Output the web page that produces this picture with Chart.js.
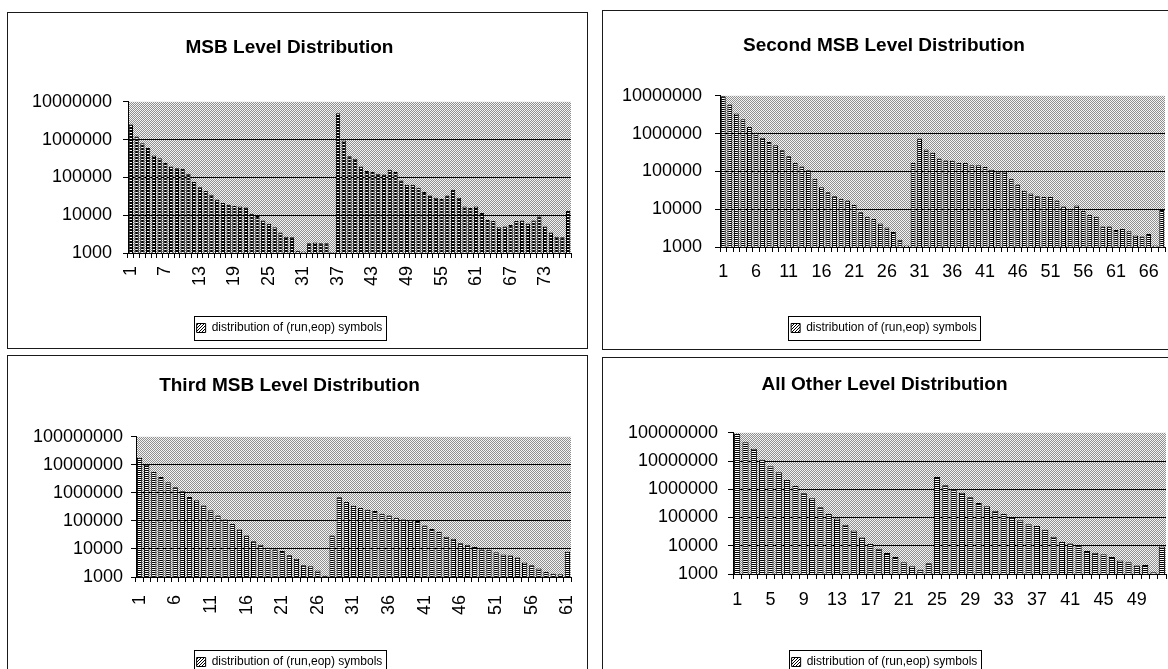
<!DOCTYPE html>
<html><head><meta charset="utf-8">
<script src="https://cdn.jsdelivr.net/npm/chart.js@4.4.1/dist/chart.umd.min.js"></script>
<style>
html,body{margin:0;padding:0;background:#fff;width:1168px;height:669px;overflow:hidden;position:relative;}
.frame{position:absolute;border:1px solid #1a1a1a;box-sizing:border-box;}
canvas{position:absolute;}
</style></head><body>
<div class="frame" style="left:7px;top:12px;width:581px;height:337px"></div>
<div class="frame" style="left:602px;top:10px;width:600px;height:340px"></div>
<div class="frame" style="left:7px;top:355px;width:581px;height:400px"></div>
<div class="frame" style="left:602px;top:357px;width:600px;height:400px"></div>
<canvas id="c1" width="578" height="334" style="left:8px;top:13px"></canvas>
<canvas id="c2" width="580" height="337" style="left:603px;top:11px"></canvas>
<canvas id="c3" width="578" height="330" style="left:8px;top:356px"></canvas>
<canvas id="c4" width="580" height="330" style="left:603px;top:358px"></canvas>
<script>
// ---- data ----
const seriesName = 'distribution of (run,eop) symbols';

const msbValues = [2500000,1200000,800000,600000,380000,320000,240000,195000,175000,170000,
  125000,76000,55000,44000,35000,26000,21000,19000,17500,17000,
  16000,11000,9500,7200,5900,4800,3500,2700,2600,1150,
  1100,1800,1900,1800,1800,1050,5000000,950000,360000,310000,
  195000,147000,140000,125000,120000,160000,140000,83000,64000,64000,
  53000,41000,33000,29000,27000,33000,47000,29000,17000,15500,
  17000,11500,7500,7000,4800,5000,5500,7000,7200,6000,
  7200,9200,5000,3500,2700,2600,13000];

const secondValues = [9800000,5900000,3400000,2400000,1500000,1050000,780000,600000,490000,360000,
  250000,166000,135000,107000,64000,38000,28000,22000,19000,17000,
  13000,8300,6300,5500,4200,3300,2500,1550,1100,166000,
  740000,380000,310000,220000,195000,190000,166000,166000,145000,145000,
  130000,110000,100000,100000,64000,45000,31000,26000,22000,21000,
  21000,17000,11700,10000,12500,8900,7000,6300,3500,3500,
  2800,3000,2600,2000,1900,2200,1100,9500];

const thirdValues = [18000000,10000000,5600000,3700000,2400000,1600000,1150000,720000,550000,355000,
  240000,155000,112000,78000,49000,30000,19000,14000,11000,9600,
  8500,6000,4500,2600,2400,1700,1100,30000,700000,470000,
  350000,290000,250000,225000,180000,155000,130000,112000,105000,100000,
  68000,51000,40000,27000,23000,16000,14000,11700,9600,9300,
  7600,6300,5800,5000,3300,2600,2000,1500,1300,1250,
  8000];

const otherValues = [90000000,46000000,27000000,11000000,6500000,4000000,2150000,1300000,720000,480000,
  230000,132000,92000,56000,35000,19500,11500,7800,5500,4000,
  2600,1900,1400,2400,2700000,1400000,1000000,760000,520000,330000,
  250000,172000,132000,98000,80000,58000,50000,37000,21000,13500,
  12000,10500,6500,5600,5000,4000,3000,2600,2000,2100,
  1150,9500];

const yTicksShort = [1000,10000,100000,1000000,10000000];
const yTicksTall  = [1000,10000,100000,1000000,10000000,100000000];

const titles = ['MSB Level Distribution','Second MSB Level Distribution','Third MSB Level Distribution','All Other Level Distribution'];
const labelSteps = [6,5,5,4];

// ---- patterns ----
function makePattern(w,h,draw){
  const c=document.createElement('canvas');c.width=w;c.height=h;
  const x=c.getContext('2d');draw(x);
  return x.createPattern(c,'repeat');
}
const bgPattern = makePattern(2,2,x=>{x.fillStyle='#f4f4f4';x.fillRect(0,0,2,2);x.fillStyle='#8f8f8f';x.fillRect(0,0,1,1);x.fillRect(1,1,1,1);});
const barDark = makePattern(2,3,x=>{x.fillStyle='#ffffff';x.fillRect(0,0,2,3);x.fillStyle='#000';x.fillRect(0,0,2,2);});
const barLight = makePattern(2,2,x=>{x.fillStyle='#ffffff';x.fillRect(0,0,2,2);x.fillStyle='#000';x.fillRect(0,0,2,1);});
const hatchPattern = makePattern(3,3,x=>{x.fillStyle='#fff';x.fillRect(0,0,3,3);x.fillStyle='#000';x.fillRect(0,2,1,1);x.fillRect(1,1,1,1);x.fillRect(2,0,1,1);});

const FONT = "'Liberation Sans', Arial, sans-serif";

const plotBg = {
  id:'plotBg',
  beforeDraw(chart){
    const a=chart.chartArea, c=chart.ctx;
    c.save();c.fillStyle=bgPattern;c.fillRect(a.left,a.top,a.right-a.left,a.bottom-a.top);c.restore();
  }
};
const legendFrame = {
  id:'legendFrame',
  afterDraw(chart){
    const hb=chart.legend.legendHitBoxes[0]; if(!hb) return;
    const c=chart.ctx;
    c.save();c.strokeStyle='#000';c.lineWidth=1;
    c.strokeRect(Math.round(hb.left-3)+0.5,Math.round(hb.top-6)+0.5,Math.round(hb.width+6),Math.round(hb.height+12));
    c.restore();
  }
};

function makeChart(id, values, yTicks, step, title, p){
  const labels = values.map((v,i)=>String(i+1));
  const yMax = yTicks[yTicks.length-1];
  return new Chart(document.getElementById(id),{
    type:'bar',
    data:{labels, datasets:[{label:seriesName, data:values, backgroundColor:p.fill,
      borderColor:'#000', borderWidth:1, barPercentage:0.74, categoryPercentage:1}]},
    options:{
      responsive:false, animation:false,
      layout:{padding:{left:0,right:p.pr,top:0,bottom:p.pb}},
      plugins:{
        title:{display:true,text:title,color:'#000',font:{family:FONT,size:19,weight:'bold'},
          padding:{top:p.tt,bottom:p.tb}},
        legend:{position:'bottom',labels:{color:'#000',font:{family:FONT,size:12},boxWidth:9,boxHeight:9,padding:8,
          generateLabels:()=>[{text:seriesName,fillStyle:hatchPattern,strokeStyle:'#000',lineWidth:1,datasetIndex:0,hidden:false}]}},
        tooltip:{enabled:false}
      },
      scales:{
        x:{
          grid:{display:true,drawOnChartArea:false,drawTicks:true,tickLength:5,color:'#000',offset:true},
          border:{display:true,color:'#000',width:1},
          ticks:{autoSkip:false,color:'#000',font:{family:FONT,size:18},padding:p.xp,
            minRotation:p.rot,maxRotation:p.rot,
            callback:function(v,i){return i%step===0?this.getLabelForValue(v):'';}},
          afterFit:s=>{s.height=p.xh;s.paddingLeft=0;s.paddingRight=0;}
        },
        y:{
          type:'logarithmic', min:yTicks[0], max:yMax,
          afterBuildTicks:s=>{s.ticks=yTicks.map(v=>({value:v}));},
          grid:{color:c=>(c.tick&&c.tick.value===yMax)?'rgba(0,0,0,0)':'#000',tickColor:'#000',tickLength:5,lineWidth:1},
          border:{display:true,color:'#000',width:1},
          ticks:{color:'#000',font:{family:FONT,size:18},padding:p.yp,callback:v=>String(v)},
          afterFit:s=>{s.width=p.yw;}
        }
      }
    },
    plugins:[plotBg,legendFrame]
  });
}

makeChart('c1', msbValues, yTicksShort, labelSteps[0], titles[0],
  {pr:15,pb:3,tt:23,tb:43,xh:61,yw:120,xp:8,yp:11,rot:90,fill:barDark});
makeChart('c2', secondValues, yTicksShort, labelSteps[1], titles[1],
  {pr:18,pb:4,tt:23,tb:39,xh:67,yw:117,xp:9,yp:13,rot:0,fill:barLight});
makeChart('c3', thirdValues, yTicksTall, labelSteps[2], titles[2],
  {pr:15,pb:8,tt:18,tb:40,xh:71,yw:128,xp:13,yp:8,rot:90,fill:barLight});
makeChart('c4', otherValues, yTicksTall, labelSteps[3], titles[3],
  {pr:17,pb:10,tt:15,tb:37,xh:74,yw:130,xp:10,yp:10,rot:0,fill:barLight});
</script>
</body></html>
